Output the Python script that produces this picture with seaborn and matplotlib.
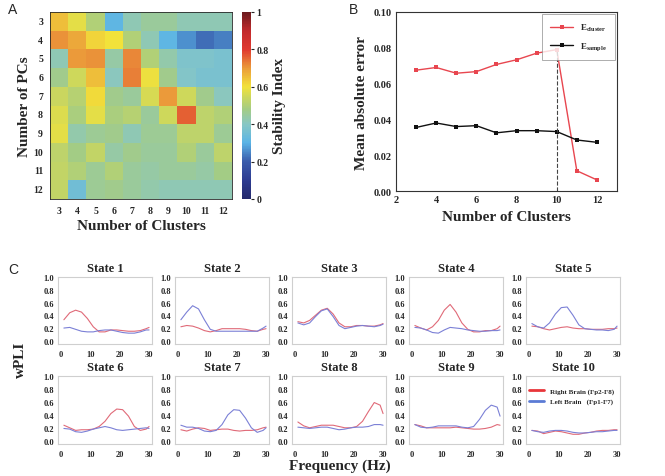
import numpy as np
import pandas as pd
import matplotlib
matplotlib.use("Agg")
import matplotlib.pyplot as plt
import seaborn as sns
from matplotlib.colors import LinearSegmentedColormap

sns.set_style("white")
plt.rcParams['font.family'] = ['Liberation Serif', 'DejaVu Serif']
plt.rcParams['mathtext.fontset'] = 'custom'
plt.rcParams['mathtext.rm'] = 'Liberation Serif:bold'
plt.rcParams['mathtext.it'] = 'Liberation Serif:bold'

# ---- data: panel A (stability index, rows = PCs, cols = clusters)
pcs = [3, 4, 5, 6, 7, 8, 9, 10, 11, 12]
clusters = [3, 4, 5, 6, 7, 8, 9, 10, 11, 12]
stab_3 = [0.65, 0.58, 0.50, 0.31, 0.42, 0.45, 0.45, 0.42, 0.42, 0.42]
stab_4 = [0.71, 0.68, 0.62, 0.60, 0.50, 0.42, 0.31, 0.26, 0.22, 0.24]
stab_5 = [0.42, 0.70, 0.71, 0.44, 0.72, 0.50, 0.43, 0.38, 0.38, 0.37]
stab_6 = [0.47, 0.55, 0.65, 0.41, 0.73, 0.59, 0.47, 0.39, 0.37, 0.37]
stab_7 = [0.54, 0.51, 0.61, 0.47, 0.45, 0.56, 0.70, 0.55, 0.47, 0.41]
stab_8 = [0.57, 0.49, 0.58, 0.49, 0.51, 0.45, 0.55, 0.76, 0.52, 0.50]
stab_9 = [0.58, 0.43, 0.46, 0.47, 0.42, 0.46, 0.46, 0.52, 0.52, 0.46]
stab_10 = [0.52, 0.48, 0.53, 0.44, 0.47, 0.45, 0.45, 0.50, 0.45, 0.52]
stab_11 = [0.53, 0.50, 0.46, 0.50, 0.45, 0.44, 0.45, 0.45, 0.44, 0.48]
stab_12 = [0.53, 0.35, 0.46, 0.47, 0.45, 0.43, 0.42, 0.42, 0.42, 0.42]

# ---- data: panel B
n_clusters = [3, 4, 5, 6, 7, 8, 9, 10, 11, 12]
e_cluster = [0.0675, 0.0690, 0.0658, 0.0667, 0.0707, 0.0733, 0.0770, 0.0790, 0.0113, 0.0062]
e_sample = [0.0355, 0.0380, 0.0360, 0.0365, 0.0325, 0.0337, 0.0337, 0.0332, 0.0285, 0.0272]

# ---- data: panel C (wPLI vs frequency)
freq = [1, 3, 5, 7, 9, 11, 13, 15, 17, 19, 21, 23, 25, 27, 29, 30]
right = {
    1: [0.33, 0.44, 0.48, 0.45, 0.35, 0.22, 0.14, 0.14, 0.17, 0.17, 0.16, 0.15, 0.15, 0.16, 0.19, 0.21],
    2: [0.22, 0.24, 0.23, 0.20, 0.16, 0.14, 0.16, 0.19, 0.19, 0.19, 0.19, 0.18, 0.16, 0.15, 0.18, 0.19],
    3: [0.30, 0.28, 0.32, 0.40, 0.48, 0.51, 0.42, 0.28, 0.22, 0.22, 0.24, 0.24, 0.23, 0.23, 0.25, 0.27],
    4: [0.24, 0.20, 0.17, 0.22, 0.32, 0.48, 0.57, 0.45, 0.28, 0.18, 0.14, 0.14, 0.16, 0.16, 0.19, 0.23],
    5: [0.23, 0.22, 0.19, 0.17, 0.19, 0.21, 0.22, 0.20, 0.19, 0.19, 0.18, 0.18, 0.18, 0.19, 0.19, 0.20],
    6: [0.24, 0.20, 0.16, 0.17, 0.17, 0.18, 0.22, 0.30, 0.42, 0.49, 0.48, 0.38, 0.22, 0.16, 0.18, 0.22],
    7: [0.17, 0.15, 0.18, 0.20, 0.19, 0.16, 0.17, 0.18, 0.18, 0.16, 0.15, 0.16, 0.16, 0.17, 0.20, 0.21],
    8: [0.29, 0.23, 0.20, 0.22, 0.24, 0.24, 0.24, 0.22, 0.20, 0.20, 0.22, 0.30, 0.45, 0.59, 0.55, 0.42],
    9: [0.25, 0.23, 0.20, 0.20, 0.20, 0.20, 0.20, 0.21, 0.20, 0.19, 0.18, 0.18, 0.19, 0.21, 0.25, 0.24],
    10: [0.16, 0.15, 0.11, 0.13, 0.15, 0.14, 0.12, 0.10, 0.10, 0.12, 0.13, 0.15, 0.16, 0.16, 0.17, 0.17],
}
left = {
    1: [0.20, 0.21, 0.18, 0.15, 0.14, 0.14, 0.16, 0.17, 0.17, 0.15, 0.13, 0.12, 0.12, 0.14, 0.17, 0.17],
    2: [0.33, 0.45, 0.55, 0.50, 0.33, 0.18, 0.15, 0.15, 0.15, 0.15, 0.15, 0.15, 0.15, 0.15, 0.20, 0.23],
    3: [0.28, 0.25, 0.28, 0.38, 0.47, 0.50, 0.38, 0.24, 0.19, 0.21, 0.23, 0.24, 0.23, 0.22, 0.24, 0.26],
    4: [0.21, 0.20, 0.17, 0.13, 0.12, 0.17, 0.21, 0.20, 0.19, 0.17, 0.16, 0.15, 0.15, 0.16, 0.16, 0.17],
    5: [0.27, 0.22, 0.20, 0.28, 0.42, 0.52, 0.53, 0.40, 0.25, 0.19, 0.18, 0.17, 0.17, 0.16, 0.18, 0.23],
    6: [0.19, 0.18, 0.14, 0.13, 0.15, 0.18, 0.20, 0.22, 0.20, 0.17, 0.16, 0.17, 0.18, 0.19, 0.20, 0.19],
    7: [0.24, 0.21, 0.21, 0.19, 0.15, 0.14, 0.16, 0.25, 0.40, 0.48, 0.47, 0.35, 0.20, 0.13, 0.16, 0.20],
    8: [0.21, 0.20, 0.19, 0.20, 0.21, 0.21, 0.19, 0.17, 0.18, 0.20, 0.21, 0.21, 0.22, 0.25, 0.25, 0.24],
    9: [0.25, 0.21, 0.20, 0.21, 0.23, 0.23, 0.23, 0.23, 0.21, 0.20, 0.22, 0.33, 0.47, 0.55, 0.52, 0.38],
    10: [0.16, 0.14, 0.13, 0.15, 0.16, 0.16, 0.15, 0.13, 0.12, 0.12, 0.13, 0.14, 0.14, 0.15, 0.16, 0.16],
}

# softened jet-like map, as in the figure's colour bar
stab_cmap = LinearSegmentedColormap.from_list('stab', [
    (0.00, '#24296c'), (0.10, '#2d3c92'), (0.20, '#3a5cab'),
    (0.30, '#5ab4e6'), (0.40, '#88c7c4'), (0.48, '#a4cc84'),
    (0.55, '#cfd85a'), (0.60, '#f2e23a'), (0.70, '#eb9c3a'),
    (0.80, '#e0392f'), (0.90, '#c22a2c'), (1.00, '#6b1a1e')])

W, H = 665, 477
fig = plt.figure(figsize=(W / 100, H / 100), dpi=100)


def box(x0, y0, x1, y1):
    # pixel box (top-left origin) -> figure fraction rect
    return [x0 / W, 1 - y1 / H, (x1 - x0) / W, (y1 - y0) / H]


bold = dict(fontweight='bold')

# ---------------- Panel A
axA = fig.add_axes(box(50, 13, 232, 200))
caxA = fig.add_axes(box(242, 13, 251, 200))
stab = pd.DataFrame([stab_3, stab_4, stab_5, stab_6, stab_7, stab_8, stab_9,
                     stab_10, stab_11, stab_12], index=pcs, columns=clusters)
sns.heatmap(stab, ax=axA, cbar_ax=caxA, cmap=stab_cmap, vmin=0, vmax=1,
            cbar_kws={'ticks': [0, 0.2, 0.4, 0.6, 0.8, 1]})
axA.set_xlabel('Number of Clusters', fontsize=11, labelpad=3, **bold)
axA.set_ylabel('Number of PCs', fontsize=11, labelpad=2, **bold)
axA.tick_params(axis='both', labelsize=7, length=2, direction='in', pad=5)
for t in axA.get_xticklabels() + axA.get_yticklabels():
    t.set_fontweight('bold')
axA.set_yticklabels(pcs, rotation=0)
for s in axA.spines.values():
    s.set_visible(True)
    s.set_linewidth(0.6)
caxA.set_yticklabels(['0', '0.2', '0.4', '0.6', '0.8', '1'])
caxA.tick_params(labelsize=7, length=2, pad=2)
for t in caxA.get_yticklabels():
    t.set_fontweight('bold')
caxA.set_ylabel('Stability Index', fontsize=11, labelpad=3, **bold)
fig.text(8 / W, 1 - 14 / H, 'A', fontsize=10, family='Liberation Sans')

# ---------------- Panel B
axB = fig.add_axes(box(396, 13, 617, 192))
dfB = pd.DataFrame({'k': n_clusters * 2,
                    'err': e_cluster + e_sample,
                    'kind': ['$E_{cluster}$'] * 10 + ['$E_{sample}$'] * 10})
sns.lineplot(data=dfB, x='k', y='err', hue='kind',
             palette=['#e8464f', '#111111'], marker='s', markersize=3.5,
             markeredgewidth=0, linewidth=1.0, ax=axB)
axB.vlines(10, 0, e_cluster[n_clusters.index(10)], colors='#444444',
           linestyles='--', linewidth=0.8)
axB.set_xlim(2, 13)
axB.set_ylim(0, 0.1)
axB.set_xticks([2, 4, 6, 8, 10, 12])
axB.set_xticks([3, 5, 7, 9, 11, 13], minor=True)
axB.set_yticks([0, 0.02, 0.04, 0.06, 0.08, 0.10])
axB.set_yticks(np.arange(0.01, 0.1, 0.02), minor=True)
axB.set_yticklabels(['0.00', '0.02', '0.04', '0.06', '0.08', '0.10'])
axB.tick_params(which='major', labelsize=7.5, length=3, direction='in', pad=3)
axB.tick_params(which='minor', length=1.5, direction='in')
for t in axB.get_xticklabels() + axB.get_yticklabels():
    t.set_fontweight('bold')
for s in axB.spines.values():
    s.set_linewidth(0.8)
    s.set_color('#333333')
axB.set_xlabel('Number of Clusters', fontsize=11, labelpad=4, **bold)
axB.set_ylabel('Mean absolute error', fontsize=11, labelpad=4, **bold)
legB = axB.legend(title=None, loc='upper right', fontsize=6.5, frameon=True,
                  handlelength=2.5, borderpad=0.6, labelspacing=0.8)
legB.get_frame().set_edgecolor('#888888')
legB.get_frame().set_linewidth(0.6)
legB.get_frame().set_boxstyle('square')
fig.text(349 / W, 1 - 14 / H, 'B', fontsize=10, family='Liberation Sans')

# ---------------- Panel C
lefts = [58, 175, 292, 409, 526]
rows = [(278, 345), (377, 445)]
red_c = '#e06a78'
blue_c = '#7b80d6'
for i in range(10):
    st = i + 1
    x0 = lefts[i % 5]
    y0, y1 = rows[i // 5]
    ax = fig.add_axes(box(x0, y0, x0 + 94, y1))
    dfC = pd.DataFrame({'f': freq * 2, 'w': right[st] + left[st],
                        'side': ['Right Brain (Fp2-F8)'] * len(freq) +
                                ['Left Brain   (Fp1-F7)'] * len(freq)})
    sns.lineplot(data=dfC, x='f', y='w', hue='side',
                 palette=[red_c, blue_c], linewidth=0.8, ax=ax,
                 legend=(st == 10))
    ax.set_xlim(-1, 31)
    ax.set_ylim(-0.05, 1.0)
    ax.set_xticks([0, 10, 20, 30])
    ax.set_yticks([0, 0.2, 0.4, 0.6, 0.8, 1.0])
    ax.set_yticklabels(['0.0', '0.2', '0.4', '0.6', '0.8', '1.0'])
    ax.tick_params(labelsize=6, length=0)
    ax.tick_params(axis='x', pad=4)
    ax.tick_params(axis='y', pad=3)
    for t in ax.get_xticklabels() + ax.get_yticklabels():
        t.set_fontweight('bold')
    for s in ax.spines.values():
        s.set_color('#cfcfcf')
        s.set_linewidth(0.8)
    ax.set_xlabel('')
    ax.set_ylabel('')
    ax.set_title(f'State {st}', fontsize=9, pad=4, **bold)
    if st == 10:
        leg = ax.legend(loc='upper right', fontsize=5, frameon=False,
                        handlelength=2.2, labelspacing=0.6,
                        bbox_to_anchor=(1.0, 0.92))
        for h, c in zip(leg.get_lines(), ['#e8363a', '#5b7bd5']):
            h.set_color(c)
            h.set_linewidth(2)
        for t in leg.get_texts():
            t.set_fontweight('bold')

fig.text(340 / W, 1 - 466 / H, 'Frequency (Hz)', fontsize=11, ha='center',
         va='center', **bold)
fig.text(20 / W, 1 - 360 / H, 'wPLI', fontsize=11, ha='center',
         va='center', rotation=90, **bold)
fig.text(8 / W, 1 - 274 / H, 'C', fontsize=10, family='Liberation Sans')

fig.savefig('out.png', dpi=100)
